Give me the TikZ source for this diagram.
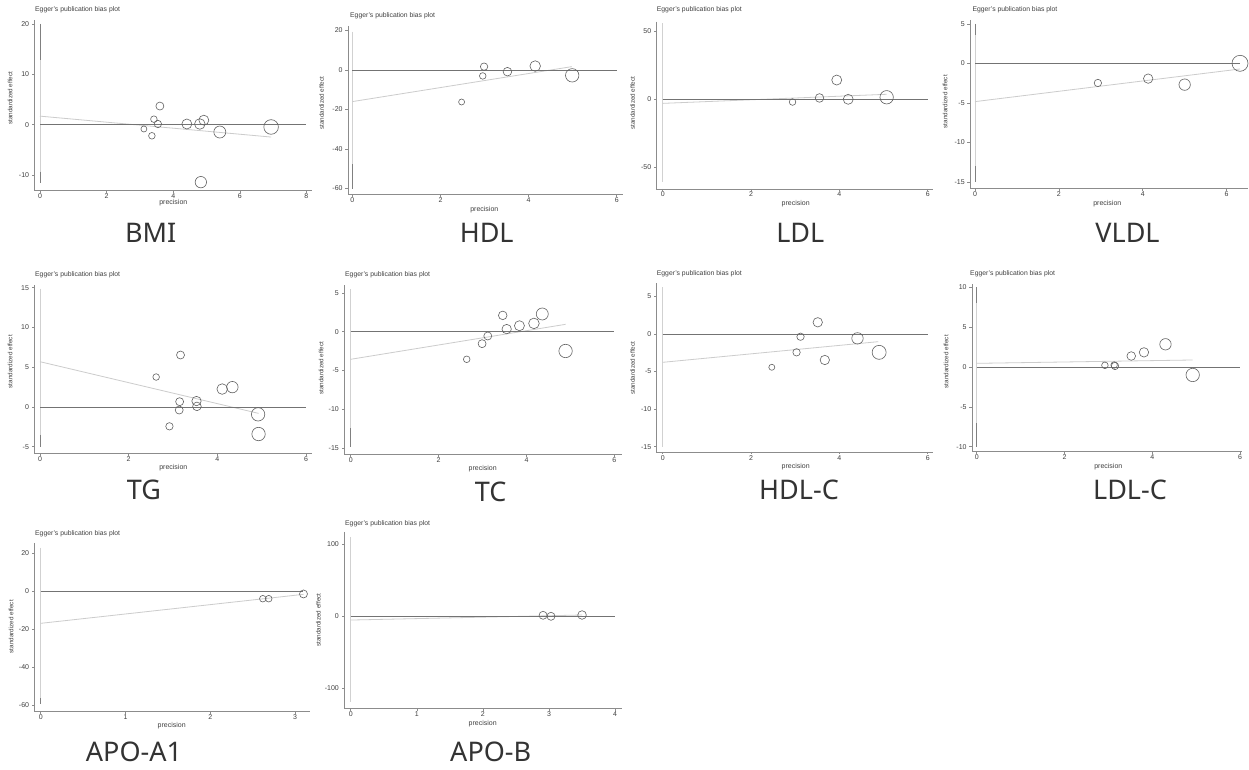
\documentclass[tikz,border=0pt]{standalone}
\usepackage{fontspec}
\setmainfont{Liberation Sans}
\newfontfamily\namefont{Noto Sans}

\definecolor{axisgray}{gray}{0.55}
\definecolor{zerogray}{gray}{0.45}
\definecolor{fitgray}{gray}{0.80}
\definecolor{cilight}{gray}{0.82}
\definecolor{cidark}{gray}{0.50}
\definecolor{dotgray}{gray}{0.38}
\definecolor{textgray}{gray}{0.25}

% frame of one egger plot: xmin, xmax, ymin, ymax, x ticks, y ticks
\newcommand{\eggerframe}[6]{%
  \draw[axis line] (#1,#4) -- (#1,#3) -- (#2,#3);
  \foreach \t in {#5}
    \draw[axis line] (\t,#3) -- ++(0,-2.5pt) node[ticklabel,below,inner sep=0.5pt] {\t};
  \foreach \t in {#6}
    \draw[axis line] (#1,\t) -- ++(-2.5pt,0) node[ticklabel,left,inner xsep=2.5pt,inner ysep=0.5pt] {\t};
}

\begin{document}
\begin{tikzpicture}[x=1pt, y=-1pt]
    \tikzstyle{axis line} = [draw=axisgray, line width=0.6pt]
    \tikzstyle{ticklabel} = [text=textgray, font=\fontsize{7}{8}\selectfont]
    \tikzstyle{plottitle} = [anchor=west, inner sep=0pt, text=textgray, font=\fontsize{6.8}{8}\selectfont]
    \tikzstyle{ylab} = [rotate=90, inner sep=0pt, text=textgray, font=\fontsize{6.3}{7}\selectfont]
    \tikzstyle{xlab} = [inner sep=0pt, text=textgray, font=\fontsize{7}{8}\selectfont]
    \tikzstyle{panel name} = [inner sep=0pt, text=black!80, font=\namefont\fontsize{27}{30}\selectfont]
    \tikzstyle{zero line} = [draw=zerogray, line width=0.9pt]
    \tikzstyle{fit line} = [draw=fitgray, line width=0.8pt]
    \tikzstyle{ci light} = [draw=cilight, line width=1pt]
    \tikzstyle{ci dark} = [draw=cidark, line width=1pt]
    \tikzstyle{study} = [draw=dotgray, line width=0.6pt]

    \fill[white] (0,0) rectangle (1249,769);

    % ---------- row 1 ----------
    % BMI
    \begin{scope}[shift={(40,124.7)}, x=33.3pt, y=5.04pt]
      \eggerframe{-0.17}{8.17}{-13.1}{20.7}{0,2,4,6,8}{-10,0,10,20}
      \draw[ci light] (0,20) -- (0,-11.5);
      \draw[ci dark] (0,20) -- (0,12.8);
      \draw[ci dark] (0,-9.3) -- (0,-11.5);
      \draw[fit line] (0,1.7) -- (6.94,-2.45);
      \draw[zero line] (0,0) -- (8,0);
      \draw[study] (3.12,-0.85) circle[radius=3pt];
      \draw[study] (3.36,-2.2) circle[radius=3.3pt];
      \draw[study] (3.42,1.1) circle[radius=3.3pt];
      \draw[study] (3.54,0.14) circle[radius=3.7pt];
      \draw[study] (3.6,3.7) circle[radius=4pt];
      \draw[study] (4.41,0.14) circle[radius=5pt];
      \draw[study] (4.8,0.14) circle[radius=5.3pt];
      \draw[study] (4.92,0.9) circle[radius=5pt];
      \draw[study] (5.4,-1.45) circle[radius=6pt];
      \draw[study] (6.94,-0.45) circle[radius=7.3pt];
      \draw[study] (4.83,-11.4) circle[radius=5.7pt];
    \end{scope}
    \node[plottitle] (bmi-title) at (35,9.3) {Egger's publication bias plot};
    \node[ylab] (bmi-ylab) at (10,98.3) {standardized effect};
    \node[xlab] (bmi-xlab) at (173.3,202.7) {precision};
    \node[panel name] (bmi-name) at (150.7,232.7) {BMI};

    % HDL
    \begin{scope}[shift={(352.3,70)}, x=44.07pt, y=1.975pt]
      \eggerframe{-0.1}{6.15}{-63}{22.3}{0,2,4,6}{-60,-40,-20,0,20}
      \draw[ci light] (0,19.4) -- (0,-60);
      \draw[ci dark] (0,-47.6) -- (0,-60);
      \draw[fit line] (0,-16) -- (4.98,1.7);
      \draw[zero line] (0,0) -- (6,0);
      \draw[study] (2.48,-16.2) circle[radius=3pt];
      \draw[study] (2.96,-3.0) circle[radius=3.3pt];
      \draw[study] (2.99,1.7) circle[radius=3.7pt];
      \draw[study] (3.52,-0.85) circle[radius=4.3pt];
      \draw[study] (4.15,2.0) circle[radius=5.3pt];
      \draw[study] (4.99,-2.7) circle[radius=6.7pt];
    \end{scope}
    \node[plottitle] (hdl-title) at (350,16) {Egger's publication bias plot};
    \node[ylab] (hdl-ylab) at (321.7,103.3) {standardized effect};
    \node[xlab] (hdl-xlab) at (484.3,209.3) {precision};
    \node[panel name] (hdl-name) at (486.7,232.5) {HDL};

    % LDL
    \begin{scope}[shift={(662.7,99.3)}, x=44.17pt, y=1.356pt]
      \eggerframe{-0.14}{6.13}{-66}{57.2}{0,2,4,6}{-50,0,50}
      \draw[ci light] (0,56) -- (0,-61.2);
      \draw[fit line] (0,-3) -- (5.07,3.7);
      \draw[zero line] (0,0) -- (6,0);
      \draw[study] (2.94,-2) circle[radius=3.3pt];
      \draw[study] (3.55,1) circle[radius=4.3pt];
      \draw[study] (3.94,14.2) circle[radius=5pt];
      \draw[study] (4.2,0) circle[radius=5pt];
      \draw[study] (5.07,1.5) circle[radius=6.7pt];
    \end{scope}
    \node[plottitle] (ldl-title) at (656.7,9.3) {Egger's publication bias plot};
    \node[ylab] (ldl-ylab) at (632.7,103.3) {standardized effect};
    \node[xlab] (ldl-xlab) at (795.7,203.3) {precision};
    \node[panel name] (ldl-name) at (800.3,232.5) {LDL};

    % VLDL
    \begin{scope}[shift={(975,63.3)}, x=41.93pt, y=7.9pt]
      \eggerframe{-0.12}{6.52}{-15.8}{5.5}{0,2,4,6}{-15,-10,-5,0,5}
      \draw[ci light] (0,5) -- (0,-15);
      \draw[ci dark] (0,5) -- (0,3.6);
      \draw[ci dark] (0,-13) -- (0,-15);
      \draw[fit line] (0,-4.85) -- (6.32,-0.72);
      \draw[zero line] (0,0) -- (6.32,0);
      \draw[study] (2.93,-2.49) circle[radius=3.7pt];
      \draw[study] (4.13,-1.94) circle[radius=4.7pt];
      \draw[study] (5.0,-2.7) circle[radius=5.7pt];
      \draw[study] (6.32,0) circle[radius=8pt];
    \end{scope}
    \node[plottitle] (vldl-title) at (972.3,10) {Egger's publication bias plot};
    \node[ylab] (vldl-ylab) at (945,101.7) {standardized effect};
    \node[xlab] (vldl-xlab) at (1107.3,204) {precision};
    \node[panel name] (vldl-name) at (1127.5,232.7) {VLDL};

    % ---------- row 2 ----------
    % TG
    \begin{scope}[shift={(40,407)}, x=44.33pt, y=7.95pt]
      \eggerframe{-0.13}{6.13}{-5.8}{15.35}{0,2,4,6}{-5,0,5,10,15}
      \draw[ci light] (0,14.9) -- (0,-5);
      \draw[ci dark] (0,-3.5) -- (0,-5);
      \draw[fit line] (0,5.7) -- (4.93,-0.8);
      \draw[zero line] (0,0) -- (6,0);
      \draw[study] (2.62,3.77) circle[radius=3.3pt];
      \draw[study] (2.92,-2.43) circle[radius=3.7pt];
      \draw[study] (3.17,6.54) circle[radius=4pt];
      \draw[study] (3.15,0.67) circle[radius=4pt];
      \draw[study] (3.14,-0.38) circle[radius=4pt];
      \draw[study] (3.53,0.75) circle[radius=4.7pt];
      \draw[study] (3.54,0.08) circle[radius=4.3pt];
      \draw[study] (4.11,2.26) circle[radius=5.3pt];
      \draw[study] (4.34,2.5) circle[radius=5.7pt];
      \draw[study] (4.92,-0.92) circle[radius=6.7pt];
      \draw[study] (4.93,-3.4) circle[radius=6.7pt];
    \end{scope}
    \node[plottitle] (tg-title) at (35,274.3) {Egger's publication bias plot};
    \node[ylab] (tg-ylab) at (10,361.7) {standardized effect};
    \node[xlab] (tg-xlab) at (173.3,467.3) {precision};
    \node[panel name] (tg-name) at (144,490) {TG};

    % TC
    \begin{scope}[shift={(350.7,331.7)}, x=43.94pt, y=7.77pt]
      \eggerframe{-0.15}{6.17}{-15.8}{6.0}{0,2,4,6}{-15,-10,-5,0,5}
      \draw[ci light] (0,5.45) -- (0,-14.9);
      \draw[ci dark] (0,-12.4) -- (0,-14.9);
      \draw[fit line] (0,-3.55) -- (4.89,0.95);
      \draw[zero line] (0,0) -- (6,0);
      \draw[study] (2.64,-3.55) circle[radius=3.3pt];
      \draw[study] (2.99,-1.54) circle[radius=4pt];
      \draw[study] (3.12,-0.55) circle[radius=4pt];
      \draw[study] (3.46,2.1) circle[radius=4.3pt];
      \draw[study] (3.55,0.34) circle[radius=4.7pt];
      \draw[study] (3.84,0.77) circle[radius=5pt];
      \draw[study] (4.17,1.07) circle[radius=5.3pt];
      \draw[study] (4.36,2.28) circle[radius=6pt];
      \draw[study] (4.89,-2.48) circle[radius=6.7pt];
    \end{scope}
    \node[plottitle] (tc-title) at (345,275) {Egger's publication bias plot};
    \node[ylab] (tc-ylab) at (321,368.3) {standardized effect};
    \node[xlab] (tc-xlab) at (482.7,468.3) {precision};
    \node[panel name] (tc-name) at (490.7,492) {TC};

    % HDL-C
    \begin{scope}[shift={(662.7,334)}, x=44.17pt, y=7.51pt]
      \eggerframe{-0.14}{6.11}{-15.7}{6.75}{0,2,4,6}{-15,-10,-5,0,5}
      \draw[ci light] (0,6.2) -- (0,-15);
      \draw[fit line] (0,-3.77) -- (4.88,-1.02);
      \draw[zero line] (0,0) -- (6,0);
      \draw[study] (2.47,-4.43) circle[radius=3pt];
      \draw[study] (3.03,-2.44) circle[radius=3.7pt];
      \draw[study] (3.12,-0.36) circle[radius=3.7pt];
      \draw[study] (3.51,1.56) circle[radius=4.7pt];
      \draw[study] (3.67,-3.46) circle[radius=4.7pt];
      \draw[study] (4.41,-0.58) circle[radius=5.7pt];
      \draw[study] (4.9,-2.44) circle[radius=7pt];
    \end{scope}
    \node[plottitle] (hdlc-title) at (656.7,273.3) {Egger's publication bias plot};
    \node[ylab] (hdlc-ylab) at (632.7,368.3) {standardized effect};
    \node[xlab] (hdlc-xlab) at (795.7,467) {precision};
    \node[panel name] (hdlc-name) at (799,490) {HDL-C};

    % LDL-C
    \begin{scope}[shift={(976.7,367)}, x=43.9pt, y=7.97pt]
      \eggerframe{-0.11}{6.04}{-10.6}{10.4}{0,2,4,6}{-10,-5,0,5,10}
      \draw[ci light] (0,10) -- (0,-10);
      \draw[ci dark] (0,10) -- (0,8.07);
      \draw[ci dark] (0,-7.06) -- (0,-10);
      \draw[fit line] (0,0.46) -- (4.92,0.88);
      \draw[zero line] (0,0) -- (6,0);
      \draw[study] (2.92,0.21) circle[radius=3.3pt];
      \draw[study] (3.13,0.25) circle[radius=3.3pt];
      \draw[study] (3.15,0.13) circle[radius=3.7pt];
      \draw[study] (3.52,1.38) circle[radius=4.3pt];
      \draw[study] (3.81,1.84) circle[radius=4.7pt];
      \draw[study] (4.3,2.85) circle[radius=5.7pt];
      \draw[study] (4.92,-1.0) circle[radius=6.7pt];
    \end{scope}
    \node[plottitle] (ldlc-title) at (970,273.3) {Egger's publication bias plot};
    \node[ylab] (ldlc-ylab) at (946,361.7) {standardized effect};
    \node[xlab] (ldlc-xlab) at (1108.3,466.7) {precision};
    \node[panel name] (ldlc-name) at (1130,490) {LDL-C};

    % ---------- row 3 ----------
    % APO-A1
    \begin{scope}[shift={(40.7,591.3)}, x=84.77pt, y=1.895pt]
      \eggerframe{-0.075}{3.18}{-63.2}{25.6}{0,1,2,3}{-60,-40,-20,0,20}
      \draw[ci light] (0,23) -- (0,-59.5);
      \draw[ci dark] (0,-56.5) -- (0,-59.5);
      \draw[fit line] (0,-16.9) -- (3.1,-1.6);
      \draw[zero line] (0,0) -- (3.1,0);
      \draw[study] (2.62,-3.9) circle[radius=3.3pt];
      \draw[study] (2.69,-3.9) circle[radius=3.3pt];
      \draw[study] (3.1,-1.4) circle[radius=4pt];
    \end{scope}
    \node[plottitle] (apoa-title) at (35,533.3) {Egger's publication bias plot};
    \node[ylab] (apoa-ylab) at (11,626.7) {standardized effect};
    \node[xlab] (apoa-xlab) at (171.7,725.3) {precision};
    \node[panel name] (apoa-name) at (134,751.7) {APO-A1};

    % APO-B
    \begin{scope}[shift={(350.7,616)}, x=66.1pt, y=0.72pt]
      \eggerframe{-0.1}{4.1}{-128}{117}{0,1,2,3,4}{-100,0,100}
      \draw[ci light] (0,110) -- (0,-120);
      \draw[fit line] (0,-5.6) -- (3.5,1.4);
      \draw[zero line] (0,0) -- (4,0);
      \draw[study] (2.91,1) circle[radius=4pt];
      \draw[study] (3.03,-0.4) circle[radius=4pt];
      \draw[study] (3.5,1.4) circle[radius=4.3pt];
    \end{scope}
    \node[plottitle] (apob-title) at (345,523.3) {Egger's publication bias plot};
    \node[ylab] (apob-ylab) at (318.3,620) {standardized effect};
    \node[xlab] (apob-xlab) at (482.7,724) {precision};
    \node[panel name] (apob-name) at (490.7,751.7) {APO-B};
\end{tikzpicture}
\end{document}
